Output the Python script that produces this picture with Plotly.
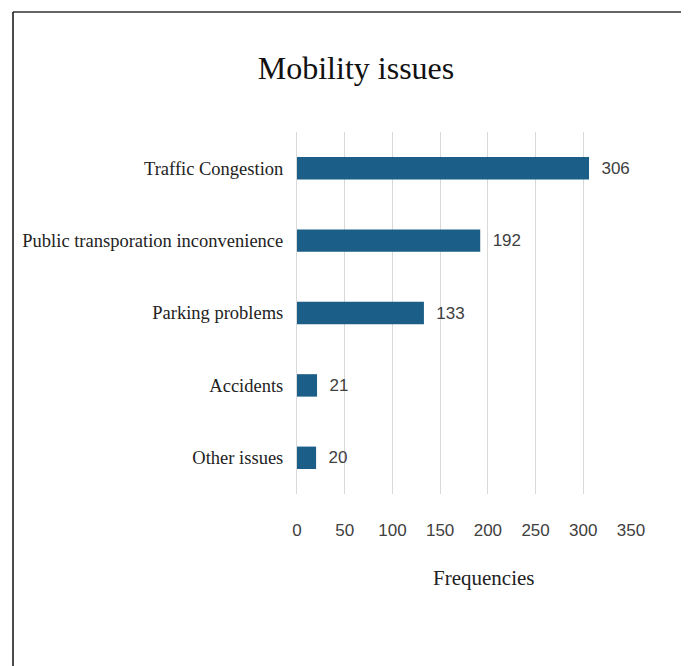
import plotly.graph_objects as go

categories = ["Traffic Congestion", "Public transporation inconvenience",
              "Parking problems", "Accidents", "Other issues"]
frequencies = [306, 192, 133, 21, 20]
x_ticks = [0, 50, 100, 150, 200, 250, 300, 350]

# page has an 8px body margin; figure sized to fit the window
OFF = 8
W, H = 689 - OFF, 666 - OFF
L, T = 297 - OFF, 132 - OFF
R = W - (631 - OFF)
B = H - (494 - OFF)
pw, ph = W - L - R, H - T - B

serif = "Liberation Serif, Times New Roman, serif"
narrow = "Liberation Sans Narrow, Arial Narrow, Liberation Sans, sans-serif"

fig = go.Figure(go.Bar(
    x=frequencies, y=categories, orientation="h",
    marker=dict(color="#1b5e88", line=dict(width=0)),
    width=0.31,
    texttemplate="\u00a0\u00a0%{x}", textposition="outside",
    textfont=dict(family=narrow, size=17, color="#404040"),
    cliponaxis=False,
))

fig.update_layout(
    width=W, height=H,
    margin=dict(l=L, r=R, t=T, b=B, autoexpand=False),
    paper_bgcolor="white", plot_bgcolor="white",
    showlegend=False,
    title=dict(text="Mobility issues", x=(356 - OFF) / W, xref="container", xanchor="center",
               y=1 - (68 - OFF) / H, yref="container", yanchor="middle",
               font=dict(family=serif, size=32, color="#111111")),
)
fig.update_xaxes(
    automargin=False,
    range=[0, 350], tickvals=x_ticks, ticktext=[str(v) for v in x_ticks],
    showgrid=True, gridcolor="#d9d9d9", gridwidth=1,
    zeroline=False, showline=False, ticks="",
    ticklabelstandoff=24,
    tickfont=dict(family=narrow, size=17, color="#404040"),
)
fig.update_yaxes(
    automargin=False,
    categoryorder="array", categoryarray=categories[::-1],
    range=[-0.5, 4.5], showgrid=False, zeroline=False,
    showline=True, linecolor="#d9d9d9", linewidth=1, ticks="",
    ticklabelstandoff=9,
    tickfont=dict(family=serif, size=18.5, color="#222222"),
)

# x-axis title placed as in the reference (slightly right of plot centre)
fig.add_annotation(text="Frequencies", xref="paper", yref="paper",
                   x=(483 - 297) / pw, y=(494 - 578) / ph,
                   xanchor="center", yanchor="middle", showarrow=False,
                   font=dict(family=serif, size=21, color="#222222"))

# outer frame lines (top and left)
x_left = (13 - OFF - L) / pw
x_right = (W + 20 - L) / pw
y_top = (H - B - (12 - OFF)) / ph
y_bot = -(B + 20) / ph
fig.add_shape(type="line", xref="paper", yref="paper", x0=x_left, x1=x_right, y0=y_top, y1=y_top,
              line=dict(color="#333333", width=1.5))
fig.add_shape(type="line", xref="paper", yref="paper", x0=x_left, x1=x_left, y0=y_bot, y1=y_top,
              line=dict(color="#111111", width=1.5))

fig.write_html("out.html")
